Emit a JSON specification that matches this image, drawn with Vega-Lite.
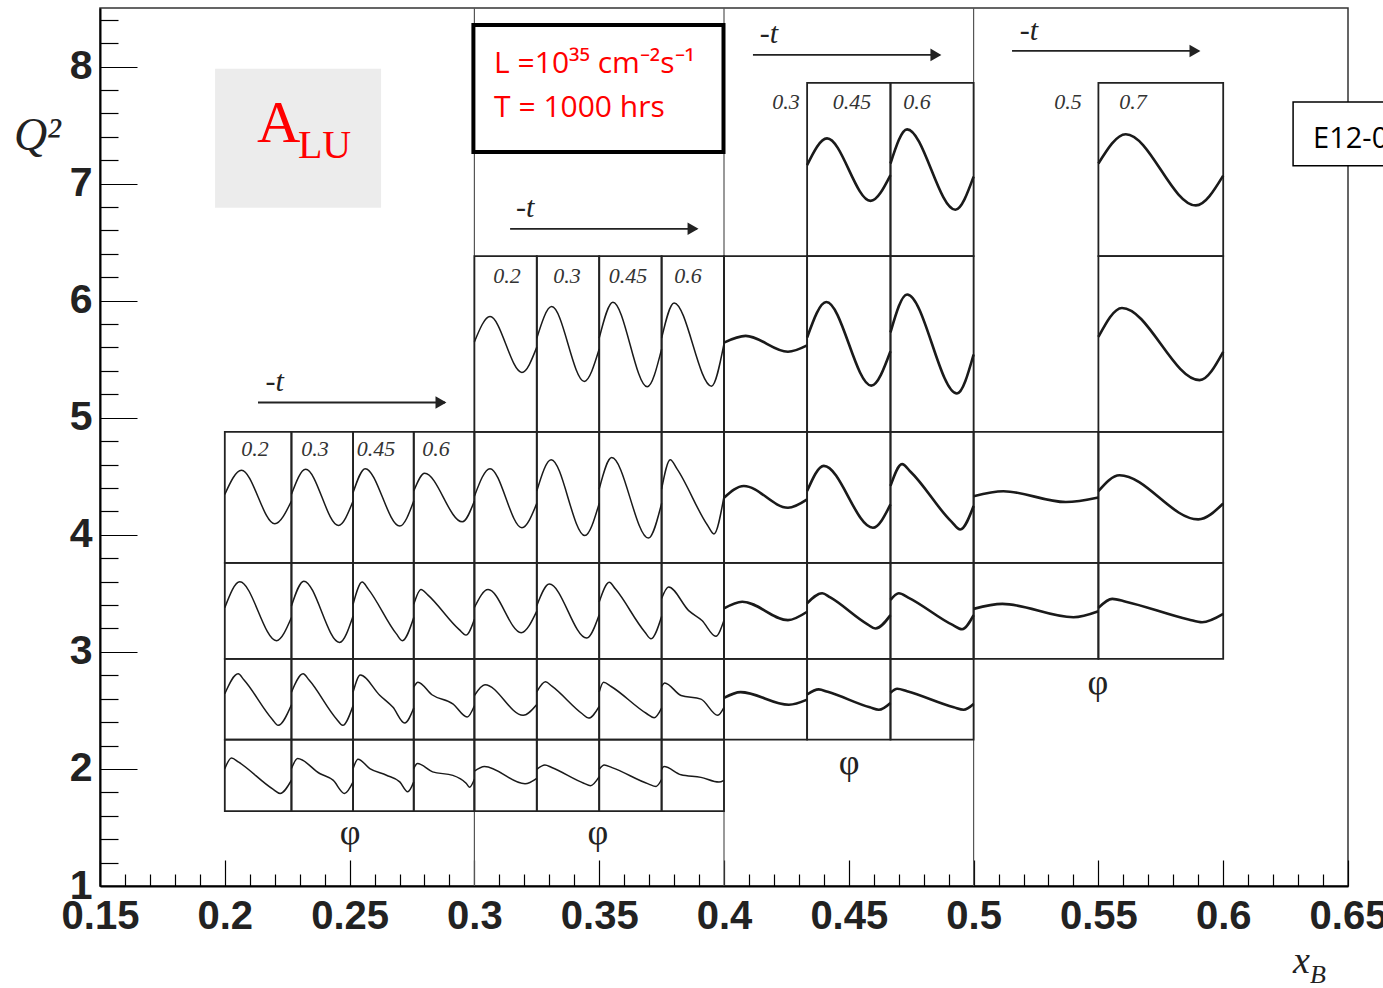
{
"$schema":"https://vega.github.io/schema/vega-lite/v6.json",
"width":1248,"height":878,
"autosize":{"type":"none"},
"padding":{"left":100,"top":8,"right":35,"bottom":102},
"background":"#ffffff",
"config":{"view":{"stroke":"#333333","strokeWidth":1.5}},
"datasets":{
"panels":[
{"p":"A3c0","x0":0.2,"x1":0.2267,"y0":3.76,"y1":4.88},{"p":"A3c1","x0":0.2267,"x1":0.2514,"y0":3.76,"y1":4.88},{"p":"A3c2","x0":0.2514,"x1":0.2757,"y0":3.76,"y1":4.88},{"p":"A3c3","x0":0.2757,"x1":0.3,"y0":3.76,"y1":4.88},
{"p":"A2c0","x0":0.2,"x1":0.2267,"y0":2.94,"y1":3.76},{"p":"A2c1","x0":0.2267,"x1":0.2514,"y0":2.94,"y1":3.76},{"p":"A2c2","x0":0.2514,"x1":0.2757,"y0":2.94,"y1":3.76},{"p":"A2c3","x0":0.2757,"x1":0.3,"y0":2.94,"y1":3.76},
{"p":"A1c0","x0":0.2,"x1":0.2267,"y0":2.25,"y1":2.94},{"p":"A1c1","x0":0.2267,"x1":0.2514,"y0":2.25,"y1":2.94},{"p":"A1c2","x0":0.2514,"x1":0.2757,"y0":2.25,"y1":2.94},{"p":"A1c3","x0":0.2757,"x1":0.3,"y0":2.25,"y1":2.94},
{"p":"A0c0","x0":0.2,"x1":0.2267,"y0":1.64,"y1":2.25},{"p":"A0c1","x0":0.2267,"x1":0.2514,"y0":1.64,"y1":2.25},{"p":"A0c2","x0":0.2514,"x1":0.2757,"y0":1.64,"y1":2.25},{"p":"A0c3","x0":0.2757,"x1":0.3,"y0":1.64,"y1":2.25},
{"p":"B4c0","x0":0.3,"x1":0.325,"y0":4.88,"y1":6.38},{"p":"B4c1","x0":0.325,"x1":0.35,"y0":4.88,"y1":6.38},{"p":"B4c2","x0":0.35,"x1":0.375,"y0":4.88,"y1":6.38},{"p":"B4c3","x0":0.375,"x1":0.4,"y0":4.88,"y1":6.38},
{"p":"B3c0","x0":0.3,"x1":0.325,"y0":3.76,"y1":4.88},{"p":"B3c1","x0":0.325,"x1":0.35,"y0":3.76,"y1":4.88},{"p":"B3c2","x0":0.35,"x1":0.375,"y0":3.76,"y1":4.88},{"p":"B3c3","x0":0.375,"x1":0.4,"y0":3.76,"y1":4.88},
{"p":"B2c0","x0":0.3,"x1":0.325,"y0":2.94,"y1":3.76},{"p":"B2c1","x0":0.325,"x1":0.35,"y0":2.94,"y1":3.76},{"p":"B2c2","x0":0.35,"x1":0.375,"y0":2.94,"y1":3.76},{"p":"B2c3","x0":0.375,"x1":0.4,"y0":2.94,"y1":3.76},
{"p":"B1c0","x0":0.3,"x1":0.325,"y0":2.25,"y1":2.94},{"p":"B1c1","x0":0.325,"x1":0.35,"y0":2.25,"y1":2.94},{"p":"B1c2","x0":0.35,"x1":0.375,"y0":2.25,"y1":2.94},{"p":"B1c3","x0":0.375,"x1":0.4,"y0":2.25,"y1":2.94},
{"p":"B0c0","x0":0.3,"x1":0.325,"y0":1.64,"y1":2.25},{"p":"B0c1","x0":0.325,"x1":0.35,"y0":1.64,"y1":2.25},{"p":"B0c2","x0":0.35,"x1":0.375,"y0":1.64,"y1":2.25},{"p":"B0c3","x0":0.375,"x1":0.4,"y0":1.64,"y1":2.25},
{"p":"C5c1","x0":0.4333,"x1":0.4667,"y0":6.38,"y1":7.86},{"p":"C5c2","x0":0.4667,"x1":0.5,"y0":6.38,"y1":7.86},
{"p":"C4c0","x0":0.4,"x1":0.4333,"y0":4.88,"y1":6.38},{"p":"C4c1","x0":0.4333,"x1":0.4667,"y0":4.88,"y1":6.38},{"p":"C4c2","x0":0.4667,"x1":0.5,"y0":4.88,"y1":6.38},
{"p":"C3c0","x0":0.4,"x1":0.4333,"y0":3.76,"y1":4.88},{"p":"C3c1","x0":0.4333,"x1":0.4667,"y0":3.76,"y1":4.88},{"p":"C3c2","x0":0.4667,"x1":0.5,"y0":3.76,"y1":4.88},
{"p":"C2c0","x0":0.4,"x1":0.4333,"y0":2.94,"y1":3.76},{"p":"C2c1","x0":0.4333,"x1":0.4667,"y0":2.94,"y1":3.76},{"p":"C2c2","x0":0.4667,"x1":0.5,"y0":2.94,"y1":3.76},
{"p":"C1c0","x0":0.4,"x1":0.4333,"y0":2.25,"y1":2.94},{"p":"C1c1","x0":0.4333,"x1":0.4667,"y0":2.25,"y1":2.94},{"p":"C1c2","x0":0.4667,"x1":0.5,"y0":2.25,"y1":2.94},
{"p":"D5c1","x0":0.55,"x1":0.6,"y0":6.38,"y1":7.86},{"p":"D4c1","x0":0.55,"x1":0.6,"y0":4.88,"y1":6.38},
{"p":"D3c0","x0":0.5,"x1":0.55,"y0":3.76,"y1":4.88},{"p":"D3c1","x0":0.55,"x1":0.6,"y0":3.76,"y1":4.88},
{"p":"D2c0","x0":0.5,"x1":0.55,"y0":2.94,"y1":3.76},{"p":"D2c1","x0":0.55,"x1":0.6,"y0":2.94,"y1":3.76}
],
"curves":[
{"p":"A3c0","f":0,"a":0.523},{"p":"A3c0","f":90,"a":0.707},{"p":"A3c0","f":270,"a":0.298},{"p":"A3c0","f":360,"a":0.472},
{"p":"A3c1","f":0,"a":0.523},{"p":"A3c1","f":83,"a":0.714},{"p":"A3c1","f":274,"a":0.286},{"p":"A3c1","f":360,"a":0.472},
{"p":"A3c2","f":0,"a":0.536},{"p":"A3c2","f":72,"a":0.719},{"p":"A3c2","f":277,"a":0.281},{"p":"A3c2","f":360,"a":0.472},
{"p":"A3c3","f":0,"a":0.548},{"p":"A3c3","f":65,"a":0.684},{"p":"A3c3","f":288,"a":0.313},{"p":"A3c3","f":360,"a":0.472},
{"p":"A2c0","f":0,"a":0.534},{"p":"A2c0","f":81,"a":0.803},{"p":"A2c0","f":279,"a":0.19},{"p":"A2c0","f":360,"a":0.431},
{"p":"A2c1","f":0,"a":0.552},{"p":"A2c1","f":72,"a":0.81},{"p":"A2c1","f":281,"a":0.172},{"p":"A2c1","f":360,"a":0.448},
{"p":"A2c2","f":0,"a":0.569},{"p":"A2c2","f":54,"a":0.8},{"p":"A2c2","f":90,"a":0.727},{"p":"A2c2","f":256,"a":0.263},{"p":"A2c2","f":292,"a":0.19},{"p":"A2c2","f":360,"a":0.431},
{"p":"A2c3","f":0,"a":0.569},{"p":"A2c3","f":43,"a":0.724},{"p":"A2c3","f":83,"a":0.667},{"p":"A2c3","f":270,"a":0.305},{"p":"A2c3","f":310,"a":0.248},{"p":"A2c3","f":360,"a":0.414},
{"p":"A1c0","f":0,"a":0.568},{"p":"A1c0","f":72,"a":0.815},{"p":"A1c0","f":104,"a":0.738},{"p":"A1c0","f":256,"a":0.254},{"p":"A1c0","f":288,"a":0.177},{"p":"A1c0","f":360,"a":0.432},
{"p":"A1c1","f":0,"a":0.588},{"p":"A1c1","f":68,"a":0.815},{"p":"A1c1","f":103,"a":0.738},{"p":"A1c1","f":264,"a":0.254},{"p":"A1c1","f":299,"a":0.177},{"p":"A1c1","f":360,"a":0.424},
{"p":"A1c2","f":0,"a":0.588},{"p":"A1c2","f":43,"a":0.8},{"p":"A1c2","f":158,"a":0.55},{"p":"A1c2","f":237,"a":0.4},{"p":"A1c2","f":306,"a":0.206},{"p":"A1c2","f":360,"a":0.391},
{"p":"A1c3","f":0,"a":0.65},{"p":"A1c3","f":25,"a":0.712},{"p":"A1c3","f":108,"a":0.556},{"p":"A1c3","f":232,"a":0.444},{"p":"A1c3","f":317,"a":0.28},{"p":"A1c3","f":360,"a":0.42},
{"p":"A0c0","f":0,"a":0.595},{"p":"A0c0","f":36,"a":0.744},{"p":"A0c0","f":75,"a":0.684},{"p":"A0c0","f":260,"a":0.307},{"p":"A0c0","f":299,"a":0.247},{"p":"A0c0","f":360,"a":0.433},
{"p":"A0c1","f":0,"a":0.595},{"p":"A0c1","f":36,"a":0.735},{"p":"A0c1","f":165,"a":0.526},{"p":"A0c1","f":243,"a":0.433},{"p":"A0c1","f":310,"a":0.247},{"p":"A0c1","f":360,"a":0.409},
{"p":"A0c2","f":0,"a":0.595},{"p":"A0c2","f":29,"a":0.726},{"p":"A0c2","f":99,"a":0.595},{"p":"A0c2","f":198,"a":0.502},{"p":"A0c2","f":277,"a":0.409},{"p":"A0c2","f":324,"a":0.27},{"p":"A0c2","f":360,"a":0.409},
{"p":"A0c3","f":0,"a":0.595},{"p":"A0c3","f":22,"a":0.665},{"p":"A0c3","f":112,"a":0.549},{"p":"A0c3","f":232,"a":0.5},{"p":"A0c3","f":311,"a":0.39},{"p":"A0c3","f":331,"a":0.335},{"p":"A0c3","f":360,"a":0.447},
{"p":"B4c0","f":0,"a":0.512},{"p":"B4c0","f":90,"a":0.656},{"p":"B4c0","f":274,"a":0.338},{"p":"B4c0","f":360,"a":0.482},
{"p":"B4c1","f":0,"a":0.533},{"p":"B4c1","f":86,"a":0.713},{"p":"B4c1","f":274,"a":0.287},{"p":"B4c1","f":360,"a":0.471},
{"p":"B4c2","f":0,"a":0.533},{"p":"B4c2","f":79,"a":0.738},{"p":"B4c2","f":277,"a":0.256},{"p":"B4c2","f":360,"a":0.471},
{"p":"B4c3","f":0,"a":0.533},{"p":"B4c3","f":72,"a":0.734},{"p":"B4c3","f":288,"a":0.26},{"p":"B4c3","f":360,"a":0.502},
{"p":"B3c0","f":0,"a":0.508},{"p":"B3c0","f":90,"a":0.719},{"p":"B3c0","f":274,"a":0.268},{"p":"B3c0","f":360,"a":0.454},
{"p":"B3c1","f":0,"a":0.549},{"p":"B3c1","f":83,"a":0.787},{"p":"B3c1","f":277,"a":0.208},{"p":"B3c1","f":360,"a":0.454},
{"p":"B3c2","f":0,"a":0.563},{"p":"B3c2","f":72,"a":0.803},{"p":"B3c2","f":284,"a":0.189},{"p":"B3c2","f":360,"a":0.454},
{"p":"B3c3","f":0,"a":0.563},{"p":"B3c3","f":50,"a":0.787},{"p":"B3c3","f":88,"a":0.719},{"p":"B3c3","f":264,"a":0.289},{"p":"B3c3","f":302,"a":0.221},{"p":"B3c3","f":360,"a":0.508},
{"p":"B2c0","f":0,"a":0.535},{"p":"B2c0","f":79,"a":0.723},{"p":"B2c0","f":270,"a":0.273},{"p":"B2c0","f":360,"a":0.498},
{"p":"B2c1","f":0,"a":0.554},{"p":"B2c1","f":72,"a":0.779},{"p":"B2c1","f":288,"a":0.217},{"p":"B2c1","f":360,"a":0.461},
{"p":"B2c2","f":0,"a":0.592},{"p":"B2c2","f":58,"a":0.798},{"p":"B2c2","f":94,"a":0.727},{"p":"B2c2","f":263,"a":0.281},{"p":"B2c2","f":299,"a":0.21},{"p":"B2c2","f":360,"a":0.442},
{"p":"B2c3","f":0,"a":0.629},{"p":"B2c3","f":40,"a":0.749},{"p":"B2c3","f":158,"a":0.5},{"p":"B2c3","f":233,"a":0.4},{"p":"B2c3","f":313,"a":0.236},{"p":"B2c3","f":360,"a":0.404},
{"p":"B1c0","f":0,"a":0.547},{"p":"B1c0","f":61,"a":0.68},{"p":"B1c0","f":281,"a":0.302},{"p":"B1c0","f":360,"a":0.436},
{"p":"B1c1","f":0,"a":0.591},{"p":"B1c1","f":50,"a":0.716},{"p":"B1c1","f":87,"a":0.662},{"p":"B1c1","f":262,"a":0.321},{"p":"B1c1","f":299,"a":0.267},{"p":"B1c1","f":360,"a":0.413},
{"p":"B1c2","f":0,"a":0.591},{"p":"B1c2","f":25,"a":0.711},{"p":"B1c2","f":69,"a":0.658},{"p":"B1c2","f":273,"a":0.324},{"p":"B1c2","f":317,"a":0.271},{"p":"B1c2","f":360,"a":0.391},
{"p":"B1c3","f":0,"a":0.658},{"p":"B1c3","f":18,"a":0.702},{"p":"B1c3","f":112,"a":0.547},{"p":"B1c3","f":227,"a":0.502},{"p":"B1c3","f":324,"a":0.302},{"p":"B1c3","f":360,"a":0.4},
{"p":"B0c0","f":0,"a":0.558},{"p":"B0c0","f":58,"a":0.624},{"p":"B0c0","f":292,"a":0.381},{"p":"B0c0","f":360,"a":0.457},
{"p":"B0c1","f":0,"a":0.584},{"p":"B0c1","f":47,"a":0.645},{"p":"B0c1","f":86,"a":0.61},{"p":"B0c1","f":271,"a":0.39},{"p":"B0c1","f":310,"a":0.355},{"p":"B0c1","f":360,"a":0.482},
{"p":"B0c2","f":0,"a":0.584},{"p":"B0c2","f":29,"a":0.645},{"p":"B0c2","f":74,"a":0.609},{"p":"B0c2","f":283,"a":0.381},{"p":"B0c2","f":328,"a":0.345},{"p":"B0c2","f":360,"a":0.442},
{"p":"B0c3","f":0,"a":0.584},{"p":"B0c3","f":14,"a":0.624},{"p":"B0c3","f":112,"a":0.508},{"p":"B0c3","f":227,"a":0.472},{"p":"B0c3","f":331,"a":0.406},{"p":"B0c3","f":360,"a":0.431},
{"p":"C5c1","f":0,"a":0.526},{"p":"C5c1","f":86,"a":0.68},{"p":"C5c1","f":274,"a":0.319},{"p":"C5c1","f":360,"a":0.468},
{"p":"C5c2","f":0,"a":0.535},{"p":"C5c2","f":72,"a":0.732},{"p":"C5c2","f":281,"a":0.268},{"p":"C5c2","f":360,"a":0.459},
{"p":"C4c0","f":0,"a":0.508},{"p":"C4c0","f":94,"a":0.546},{"p":"C4c0","f":277,"a":0.456},{"p":"C4c0","f":360,"a":0.492},
{"p":"C4c1","f":0,"a":0.537},{"p":"C4c1","f":83,"a":0.739},{"p":"C4c1","f":277,"a":0.263},{"p":"C4c1","f":360,"a":0.459},
{"p":"C4c2","f":0,"a":0.566},{"p":"C4c2","f":72,"a":0.782},{"p":"C4c2","f":288,"a":0.218},{"p":"C4c2","f":360,"a":0.44},
{"p":"C3c0","f":0,"a":0.497},{"p":"C3c0","f":86,"a":0.587},{"p":"C3c0","f":277,"a":0.421},{"p":"C3c0","f":360,"a":0.485},
{"p":"C3c1","f":0,"a":0.548},{"p":"C3c1","f":72,"a":0.74},{"p":"C3c1","f":284,"a":0.268},{"p":"C3c1","f":360,"a":0.446},
{"p":"C3c2","f":0,"a":0.587},{"p":"C3c2","f":50,"a":0.753},{"p":"C3c2","f":88,"a":0.693},{"p":"C3c2","f":264,"a":0.315},{"p":"C3c2","f":302,"a":0.255},{"p":"C3c2","f":360,"a":0.434},
{"p":"C2c0","f":0,"a":0.526},{"p":"C2c0","f":79,"a":0.596},{"p":"C2c0","f":277,"a":0.404},{"p":"C2c0","f":360,"a":0.491},
{"p":"C2c1","f":0,"a":0.579},{"p":"C2c1","f":65,"a":0.684},{"p":"C2c1","f":100,"a":0.64},{"p":"C2c1","f":261,"a":0.36},{"p":"C2c1","f":295,"a":0.316},{"p":"C2c1","f":360,"a":0.456},
{"p":"C2c2","f":0,"a":0.614},{"p":"C2c2","f":36,"a":0.684},{"p":"C2c2","f":77,"a":0.639},{"p":"C2c2","f":269,"a":0.354},{"p":"C2c2","f":310,"a":0.309},{"p":"C2c2","f":360,"a":0.456},
{"p":"C1c0","f":0,"a":0.517},{"p":"C1c0","f":72,"a":0.588},{"p":"C1c0","f":281,"a":0.433},{"p":"C1c0","f":360,"a":0.496},
{"p":"C1c1","f":0,"a":0.559},{"p":"C1c1","f":50,"a":0.622},{"p":"C1c1","f":89,"a":0.592},{"p":"C1c1","f":271,"a":0.4},{"p":"C1c1","f":310,"a":0.37},{"p":"C1c1","f":360,"a":0.454},
{"p":"C1c2","f":0,"a":0.58},{"p":"C1c2","f":29,"a":0.63},{"p":"C1c2","f":72,"a":0.599},{"p":"C1c2","f":274,"a":0.401},{"p":"C1c2","f":317,"a":0.37},{"p":"C1c2","f":360,"a":0.441},
{"p":"D5c1","f":0,"a":0.535},{"p":"D5c1","f":79,"a":0.704},{"p":"D5c1","f":281,"a":0.293},{"p":"D5c1","f":360,"a":0.465},
{"p":"D4c1","f":0,"a":0.54},{"p":"D4c1","f":68,"a":0.705},{"p":"D4c1","f":292,"a":0.294},{"p":"D4c1","f":360,"a":0.455},
{"p":"D3c0","f":0,"a":0.509},{"p":"D3c0","f":86,"a":0.547},{"p":"D3c0","f":266,"a":0.464},{"p":"D3c0","f":360,"a":0.499},
{"p":"D3c1","f":0,"a":0.547},{"p":"D3c1","f":61,"a":0.668},{"p":"D3c1","f":288,"a":0.332},{"p":"D3c1","f":360,"a":0.453},
{"p":"D2c0","f":0,"a":0.521},{"p":"D2c0","f":83,"a":0.573},{"p":"D2c0","f":288,"a":0.434},{"p":"D2c0","f":360,"a":0.497},
{"p":"D2c1","f":0,"a":0.531},{"p":"D2c1","f":40,"a":0.625},{"p":"D2c1","f":79,"a":0.596},{"p":"D2c1","f":260,"a":0.411},{"p":"D2c1","f":299,"a":0.382},{"p":"D2c1","f":360,"a":0.469}
],
"tlabels":[
{"x":0.2121,"y":4.737,"t":"0.2"},{"x":0.2361,"y":4.737,"t":"0.3"},{"x":0.2606,"y":4.737,"t":"0.45"},{"x":0.2846,"y":4.737,"t":"0.6"},
{"x":0.3131,"y":6.213,"t":"0.2"},{"x":0.3371,"y":6.213,"t":"0.3"},{"x":0.3615,"y":6.213,"t":"0.45"},{"x":0.3856,"y":6.213,"t":"0.6"},
{"x":0.4248,"y":7.698,"t":"0.3"},{"x":0.4513,"y":7.698,"t":"0.45"},{"x":0.4773,"y":7.698,"t":"0.6"},
{"x":0.5378,"y":7.698,"t":"0.5"},{"x":0.5639,"y":7.698,"t":"0.7"}
],
"arrows":[
{"xa":0.2133,"xb":0.2882,"y":5.13,"tx":0.22,"ty":5.309},
{"xa":0.3143,"xb":0.3892,"y":6.614,"tx":0.3203,"ty":6.794},
{"xa":0.4116,"xb":0.4865,"y":8.099,"tx":0.418,"ty":8.278},
{"xa":0.5154,"xb":0.5903,"y":8.133,"tx":0.5222,"ty":8.304}
],
"phis":[{"x":0.2502,"y":1.452},{"x":0.3495,"y":1.452},{"x":0.4501,"y":2.049},{"x":0.5498,"y":2.732}],
"bins":[{"x":0.3,"ya":1,"yb":8.5},{"x":0.4,"ya":1,"yb":8.5},{"x":0.5,"ya":1,"yb":8.5}]
},
"layer":[
{"data":{"values":[{"xa":0.1961,"xb":0.2626,"ya":6.794,"yb":7.98}]},
 "mark":{"type":"rect","color":"#ececec"},
 "encoding":{"x":{"field":"xa","type":"quantitative","scale":{"domain":[0.15,0.65],"nice":false,"zero":false},"axis":null},"x2":{"field":"xb"},
  "y":{"field":"ya","type":"quantitative","scale":{"domain":[1,8.5],"nice":false,"zero":false},"axis":null},"y2":{"field":"yb"}}},
{"data":{"name":"bins"},
 "mark":{"type":"rule","color":"#555555","strokeWidth":1.2},
 "encoding":{"x":{"field":"x","type":"quantitative","scale":{"domain":[0.15,0.65],"nice":false,"zero":false},"axis":null},
  "y":{"field":"ya","type":"quantitative","scale":{"domain":[1,8.5],"nice":false,"zero":false},"axis":null},"y2":{"field":"yb"}}},
{"data":{"name":"panels"},
 "mark":{"type":"rect","fillOpacity":0,"stroke":"#222222","strokeWidth":1.8},
 "encoding":{"x":{"field":"x0","type":"quantitative","scale":{"domain":[0.15,0.65],"nice":false,"zero":false},"axis":null},"x2":{"field":"x1"},
  "y":{"field":"y0","type":"quantitative","scale":{"domain":[1,8.5],"nice":false,"zero":false},"axis":null},"y2":{"field":"y1"}}},
{"data":{"name":"curves"},
 "transform":[
  {"lookup":"p","from":{"data":{"name":"panels"},"key":"p","fields":["x0","x1","y0","y1"]}},
  {"calculate":"datum.x0+datum.f/360*(datum.x1-datum.x0)","as":"xb"},
  {"calculate":"datum.y0+datum.a*(datum.y1-datum.y0)","as":"q2"},
  {"filter":"datum.x0<0.4"}],
 "mark":{"type":"line","interpolate":"monotone","color":"#1a1a1a","strokeWidth":1.5},
 "encoding":{"x":{"field":"xb","type":"quantitative","scale":{"domain":[0.15,0.65],"nice":false,"zero":false},"axis":null},
  "y":{"field":"q2","type":"quantitative","scale":{"domain":[1,8.5],"nice":false,"zero":false},"axis":null},
  "detail":{"field":"p"}}},
{"data":{"name":"curves"},
 "transform":[
  {"lookup":"p","from":{"data":{"name":"panels"},"key":"p","fields":["x0","x1","y0","y1"]}},
  {"calculate":"datum.x0+datum.f/360*(datum.x1-datum.x0)","as":"xb"},
  {"calculate":"datum.y0+datum.a*(datum.y1-datum.y0)","as":"q2"},
  {"filter":"datum.x0>=0.4"}],
 "mark":{"type":"line","interpolate":"monotone","color":"#1a1a1a","strokeWidth":2.6},
 "encoding":{"x":{"field":"xb","type":"quantitative","scale":{"domain":[0.15,0.65],"nice":false,"zero":false},"axis":null},
  "y":{"field":"q2","type":"quantitative","scale":{"domain":[1,8.5],"nice":false,"zero":false},"axis":null},
  "detail":{"field":"p"}}},
{"data":{"name":"tlabels"},
 "mark":{"type":"text","font":"Liberation Serif","fontStyle":"italic","fontSize":22,"color":"#333333","align":"center","baseline":"middle"},
 "encoding":{"x":{"field":"x","type":"quantitative","scale":{"domain":[0.15,0.65],"nice":false,"zero":false},"axis":null},
  "y":{"field":"y","type":"quantitative","scale":{"domain":[1,8.5],"nice":false,"zero":false},"axis":null},
  "text":{"field":"t"}}},
{"data":{"name":"arrows"},
 "mark":{"type":"text","font":"Liberation Serif","fontStyle":"italic","fontSize":30,"color":"#222222","align":"center","baseline":"middle"},
 "encoding":{"x":{"field":"tx","type":"quantitative","scale":{"domain":[0.15,0.65],"nice":false,"zero":false},"axis":null},
  "y":{"field":"ty","type":"quantitative","scale":{"domain":[1,8.5],"nice":false,"zero":false},"axis":null},
  "text":{"value":"-t"}}},
{"data":{"name":"arrows"},
 "mark":{"type":"rule","color":"#222222","strokeWidth":1.8},
 "encoding":{"x":{"field":"xa","type":"quantitative","scale":{"domain":[0.15,0.65],"nice":false,"zero":false},"axis":null},"x2":{"field":"xb"},
  "y":{"field":"y","type":"quantitative","scale":{"domain":[1,8.5],"nice":false,"zero":false},"axis":null}}},
{"data":{"name":"arrows"},
 "mark":{"type":"point","shape":"triangle-right","size":160,"filled":true,"color":"#222222","opacity":1,"xOffset":-4},
 "encoding":{"x":{"field":"xb","type":"quantitative","scale":{"domain":[0.15,0.65],"nice":false,"zero":false},"axis":null},
  "y":{"field":"y","type":"quantitative","scale":{"domain":[1,8.5],"nice":false,"zero":false},"axis":null}}},
{"data":{"name":"phis"},
 "mark":{"type":"text","font":"Liberation Serif","fontSize":36,"color":"#222222","align":"center","baseline":"middle"},
 "encoding":{"x":{"field":"x","type":"quantitative","scale":{"domain":[0.15,0.65],"nice":false,"zero":false},"axis":null},
  "y":{"field":"y","type":"quantitative","scale":{"domain":[1,8.5],"nice":false,"zero":false},"axis":null},
  "text":{"value":"φ"}}},
{"data":{"values":[{"xa":0.2996,"xb":0.3998,"ya":7.27,"yb":8.355}]},
 "mark":{"type":"rect","fill":"#ffffff","stroke":"#000000","strokeWidth":4},
 "encoding":{"x":{"field":"xa","type":"quantitative","scale":{"domain":[0.15,0.65],"nice":false,"zero":false},"axis":null},"x2":{"field":"xb"},
  "y":{"field":"ya","type":"quantitative","scale":{"domain":[1,8.5],"nice":false,"zero":false},"axis":null},"y2":{"field":"yb"}}},
{"data":{"values":[{"x":0.3079,"y":7.945,"t":"L =10³⁵ cm⁻²s⁻¹"},{"x":0.3079,"y":7.569,"t":"T = 1000 hrs"}]},
 "mark":{"type":"text","font":"Open Sans","fontSize":30,"color":"#ff0000","align":"left","baseline":"alphabetic"},
 "encoding":{"x":{"field":"x","type":"quantitative","scale":{"domain":[0.15,0.65],"nice":false,"zero":false},"axis":null},
  "y":{"field":"y","type":"quantitative","scale":{"domain":[1,8.5],"nice":false,"zero":false},"axis":null},
  "text":{"field":"t"}}},
{"data":{"values":[{"x":0.2129,"y":7.355,"t":"A"}]},
 "mark":{"type":"text","font":"Liberation Serif","fontSize":60,"color":"#ff0000","align":"left","baseline":"alphabetic"},
 "encoding":{"x":{"field":"x","type":"quantitative","scale":{"domain":[0.15,0.65],"nice":false,"zero":false},"axis":null},
  "y":{"field":"y","type":"quantitative","scale":{"domain":[1,8.5],"nice":false,"zero":false},"axis":null},
  "text":{"field":"t"}}},
{"data":{"values":[{"x":0.2293,"y":7.219,"t":"LU"}]},
 "mark":{"type":"text","font":"Liberation Serif","fontSize":40,"color":"#ff0000","align":"left","baseline":"alphabetic"},
 "encoding":{"x":{"field":"x","type":"quantitative","scale":{"domain":[0.15,0.65],"nice":false,"zero":false},"axis":null},
  "y":{"field":"y","type":"quantitative","scale":{"domain":[1,8.5],"nice":false,"zero":false},"axis":null},
  "text":{"field":"t"}}},
{"data":{"values":[{"xa":0.628,"xb":0.7,"ya":7.152,"yb":7.698}]},
 "mark":{"type":"rect","fill":"#ffffff","stroke":"#000000","strokeWidth":1.5},
 "encoding":{"x":{"field":"xa","type":"quantitative","scale":{"domain":[0.15,0.65],"nice":false,"zero":false},"axis":null},"x2":{"field":"xb"},
  "y":{"field":"ya","type":"quantitative","scale":{"domain":[1,8.5],"nice":false,"zero":false},"axis":null},"y2":{"field":"yb"}}},
{"data":{"values":[{"x":0.636,"y":7.305,"t":"E12-06-114"}]},
 "mark":{"type":"text","font":"Open Sans","fontSize":29,"color":"#000000","align":"left","baseline":"alphabetic"},
 "encoding":{"x":{"field":"x","type":"quantitative","scale":{"domain":[0.15,0.65],"nice":false,"zero":false},"axis":null},
  "y":{"field":"y","type":"quantitative","scale":{"domain":[1,8.5],"nice":false,"zero":false},"axis":null},
  "text":{"field":"t"}}},
{"data":{"values":[{"x":0.1155,"y":7.287,"t":"Q²"}]},
 "mark":{"type":"text","font":"Liberation Serif","fontStyle":"italic","fontSize":46,"color":"#222222","align":"left","baseline":"alphabetic"},
 "encoding":{"x":{"field":"x","type":"quantitative","scale":{"domain":[0.15,0.65],"nice":false,"zero":false},"axis":null},
  "y":{"field":"y","type":"quantitative","scale":{"domain":[1,8.5],"nice":false,"zero":false},"axis":null},
  "text":{"field":"t"}}},
{"data":{"values":[{"x":0.628,"y":0.257,"t":"x"}]},
 "mark":{"type":"text","font":"Liberation Serif","fontStyle":"italic","fontSize":38,"color":"#222222","align":"left","baseline":"alphabetic"},
 "encoding":{"x":{"field":"x","type":"quantitative","scale":{"domain":[0.15,0.65],"nice":false,"zero":false},"axis":null},
  "y":{"field":"y","type":"quantitative","scale":{"domain":[1,8.5],"nice":false,"zero":false},"axis":null},
  "text":{"field":"t"}}},
{"data":{"values":[{"x":0.6348,"y":0.172,"t":"B"}]},
 "mark":{"type":"text","font":"Liberation Serif","fontStyle":"italic","fontSize":26,"color":"#222222","align":"left","baseline":"alphabetic"},
 "encoding":{"x":{"field":"x","type":"quantitative","scale":{"domain":[0.15,0.65],"nice":false,"zero":false},"axis":null},
  "y":{"field":"y","type":"quantitative","scale":{"domain":[1,8.5],"nice":false,"zero":false},"axis":null},
  "text":{"field":"t"}}},
{"data":{"name":"bins"},
 "mark":{"type":"point","opacity":0},
 "encoding":{"x":{"field":"x","type":"quantitative","scale":{"domain":[0.15,0.65],"nice":false,"zero":false},
   "axis":{"orient":"bottom","values":[0.15,0.2,0.25,0.3,0.35,0.4,0.45,0.5,0.55,0.6,0.65],"format":".2~f","ticks":false,"tickSize":0,"domain":true,"domainColor":"#000000","domainWidth":2,"labelFont":"Liberation Sans","labelFontWeight":"bold","labelFontSize":40,"labelColor":"#222222","labelPadding":10,"labelFlush":false,"labelOverlap":false,"labelBound":false,"labelBaseline":"top","grid":false,"title":null}},
  "y":{"field":"ya","type":"quantitative","scale":{"domain":[1,8.5],"nice":false,"zero":false},
   "axis":{"orient":"left","values":[1,2,3,4,5,6,7,8],"format":"d","ticks":false,"tickSize":0,"domain":true,"domainColor":"#000000","domainWidth":2,"labelFont":"Liberation Sans","labelFontWeight":"bold","labelFontSize":41,"labelColor":"#222222","labelPadding":8,"labelFlush":false,"labelOverlap":false,"labelBound":false,"grid":false,"title":null}}}},
{"data":{"name":"bins"},
 "mark":{"type":"point","opacity":0},
 "encoding":{"x":{"field":"x","type":"quantitative","scale":{"domain":[0.15,0.65],"nice":false,"zero":false},
   "axis":{"orient":"bottom","values":[0.15,0.2,0.25,0.3,0.35,0.4,0.45,0.5,0.55,0.6,0.65],"ticks":true,"tickSize":-26,"tickColor":"#000000","tickWidth":1.2,"labels":false,"domain":false,"grid":false,"title":null}},
  "y":{"field":"ya","type":"quantitative","scale":{"domain":[1,8.5],"nice":false,"zero":false},
   "axis":{"orient":"left","values":[1,2,3,4,5,6,7,8],"ticks":true,"tickSize":-37,"tickColor":"#000000","tickWidth":1.2,"labels":false,"domain":false,"grid":false,"title":null}}}},
{"data":{"name":"bins"},
 "mark":{"type":"point","opacity":0},
 "encoding":{"x":{"field":"x","type":"quantitative","scale":{"domain":[0.15,0.65],"nice":false,"zero":false},
   "axis":{"orient":"bottom","values":[0.16,0.17,0.18,0.19,0.21,0.22,0.23,0.24,0.26,0.27,0.28,0.29,0.31,0.32,0.33,0.34,0.36,0.37,0.38,0.39,0.41,0.42,0.43,0.44,0.46,0.47,0.48,0.49,0.51,0.52,0.53,0.54,0.56,0.57,0.58,0.59,0.61,0.62,0.63,0.64],"ticks":true,"tickSize":-12,"tickColor":"#000000","tickWidth":1.2,"labels":false,"domain":false,"grid":false,"title":null}},
  "y":{"field":"ya","type":"quantitative","scale":{"domain":[1,8.5],"nice":false,"zero":false},
   "axis":{"orient":"left","values":[1.2,1.4,1.6,1.8,2.2,2.4,2.6,2.8,3.2,3.4,3.6,3.8,4.2,4.4,4.6,4.8,5.2,5.4,5.6,5.8,6.2,6.4,6.6,6.8,7.2,7.4,7.6,7.8,8.2,8.4],"ticks":true,"tickSize":-18,"tickColor":"#000000","tickWidth":1.2,"labels":false,"domain":false,"grid":false,"title":null}}}}
],
"resolve":{"axis":{"x":"independent","y":"independent"}}
}
